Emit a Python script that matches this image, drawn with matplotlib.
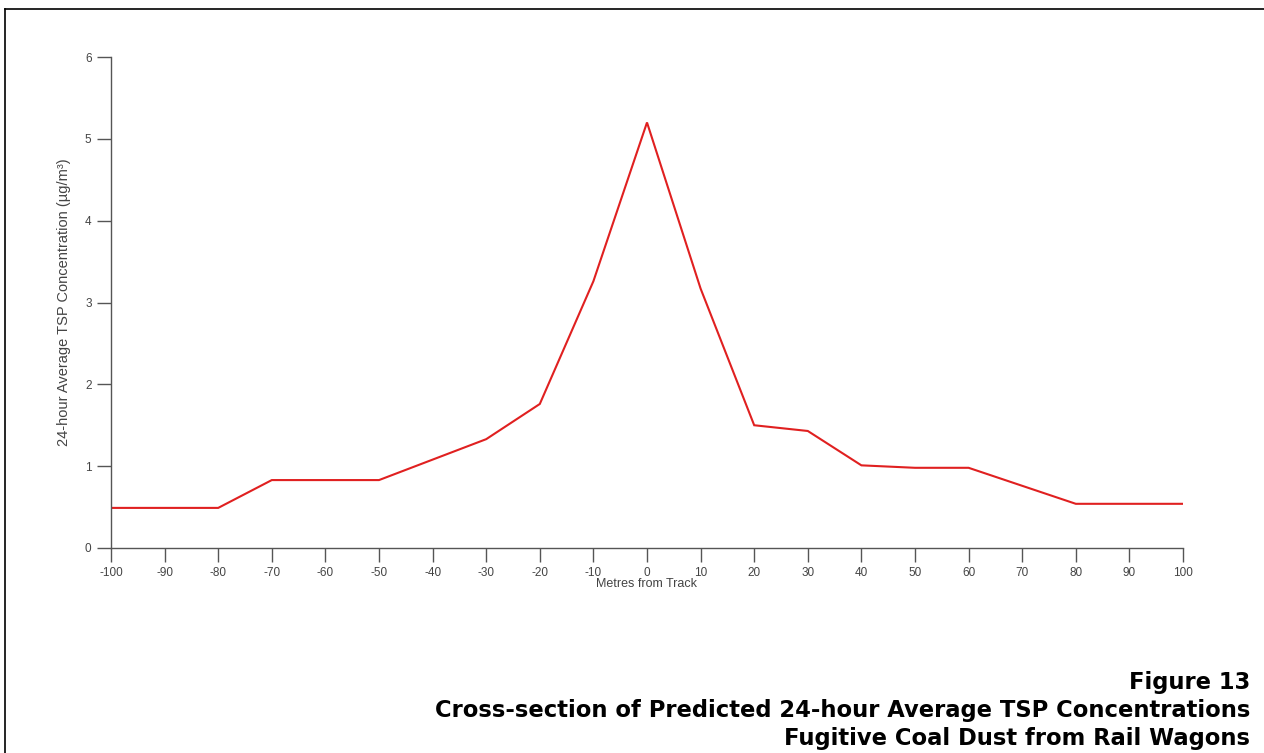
import matplotlib.pyplot as plt
from matplotlib.lines import Line2D

plt.rcParams['font.family'] = ['Liberation Sans', 'DejaVu Sans']

# distance from track (m) and predicted 24-hour TSP concentration (ug/m3)
distance = [-100, -90, -80, -70, -60, -50, -40, -30, -20, -10, 0,
            10, 20, 30, 40, 50, 60, 70, 80, 90, 100]
concentration = [0.49, 0.49, 0.49, 0.83, 0.83, 0.83, 1.08, 1.33, 1.76, 3.26, 5.2,
                 3.17, 1.50, 1.43, 1.01, 0.98, 0.98, 0.76, 0.54, 0.54, 0.54]

x_ticks = list(range(-100, 101, 10))
y_ticks = [0, 1, 2, 3, 4, 5, 6]

title_lines = [
    "Figure 13",
    "Cross-section of Predicted 24-hour Average TSP Concentrations",
    "Fugitive Coal Dust from Rail Wagons",
]

axis_grey = '#555555'
text_grey = '#444444'

fig = plt.figure(figsize=(12.64, 7.53), dpi=100)
ax = fig.add_axes([111 / 1264, 1 - 548 / 753, (1183 - 111) / 1264, (548 - 57) / 753])

ax.plot(distance, concentration, color='#e02020', linewidth=1.5, solid_joinstyle='miter')

ax.set_xlim(-100, 100)
ax.set_ylim(0, 6)
ax.set_xticks(x_ticks)
ax.set_yticks(y_ticks)
ax.set_xticklabels([str(v) for v in x_ticks])
ax.set_yticklabels([str(v) for v in y_ticks])

for side in ['top', 'right']:
    ax.spines[side].set_visible(False)
for side in ['left', 'bottom']:
    ax.spines[side].set_color(axis_grey)
    ax.spines[side].set_linewidth(1.0)

ax.tick_params(axis='both', direction='out', length=10, width=1.0,
               color=axis_grey, labelcolor=text_grey, labelsize=8.5, pad=4)

ax.set_xlabel("Metres from Track", fontsize=9, color=text_grey, labelpad=-1)
ax.set_ylabel("24-hour Average TSP Concentration (µg/m³)", fontsize=10.5,
              color=text_grey, labelpad=10)

# page frame (top and left edges)
fig.add_artist(Line2D([5 / 1264, 5 / 1264], [0, 1 - 9 / 753], color='black',
                      linewidth=1.2, transform=fig.transFigure))
fig.add_artist(Line2D([5 / 1264, 1], [1 - 9 / 753, 1 - 9 / 753], color='black',
                      linewidth=1.2, transform=fig.transFigure))

for i, line in enumerate(title_lines):
    fig.text(1250 / 1264, 1 - (683 + 27.5 * i) / 753, line, ha='right', va='center',
             fontsize=16.3, fontweight='bold', color='black', family='DejaVu Sans')

fig.savefig('out.png', dpi=100, facecolor='white')
